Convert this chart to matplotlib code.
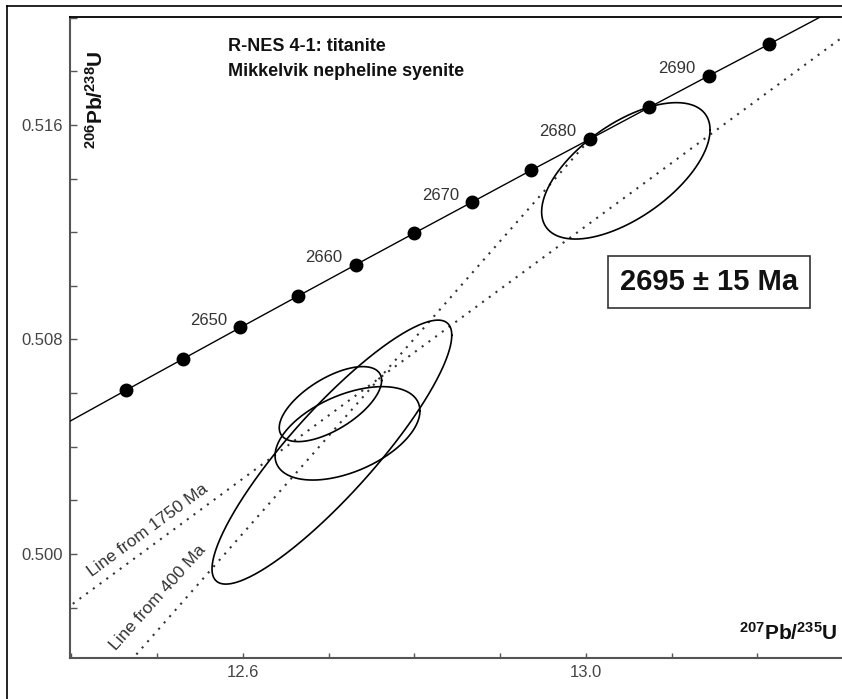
import numpy as np
import matplotlib
matplotlib.use("Agg")
import matplotlib.pyplot as plt
from matplotlib.lines import Line2D
from matplotlib.ticker import MultipleLocator, FixedLocator

plt.rcParams['font.family'] = ['Liberation Sans', 'DejaVu Sans']
plt.rcParams['mathtext.fontset'] = 'custom'
plt.rcParams['mathtext.rm'] = 'Liberation Sans'
plt.rcParams['mathtext.default'] = 'regular'

# Concordia points (age in Ma, 207Pb/235U, 206Pb/238U)
ages = [2630, 2640, 2645, 2650, 2655, 2660, 2665, 2670, 2675, 2680, 2685, 2690, 2695, 2700]
conc_x = [12.3319, 12.4637, 12.5303, 12.5971, 12.6642, 12.7316, 12.7994,
          12.8675, 12.9360, 13.0048, 13.0739, 13.1434, 13.2132, 13.2834]
conc_y = [0.50378, 0.50611, 0.50728, 0.50845, 0.50962, 0.51079, 0.51196,
          0.51313, 0.51431, 0.51548, 0.51666, 0.51784, 0.51901, 0.52020]
dot_ages = ages[1:-1]
label_ages = [2650, 2660, 2670, 2680, 2690]

# Error ellipses: x, 2s x, y, 2s y, rho
ell_x = [13.0465, 12.7020, 12.7219, 12.7037]
ell_sx = [0.0982, 0.0597, 0.0845, 0.1398]
ell_y = [0.51429, 0.50559, 0.50450, 0.50380]
ell_sy = [0.002544, 0.001399, 0.001742, 0.004923]
ell_rho = [0.60, 0.63, 0.48, 0.885]

# Reference lines (two end points each)
line1750_x = [12.30, 13.40]
line1750_y = [0.49575, 0.52165]
line400_x = [12.45, 13.0048]
line400_y = [0.49532, 0.51548]

xticks_major = [12.6, 13.0]
yticks_major = [0.500, 0.508, 0.516]

fig = plt.figure(figsize=(8.42, 6.99), dpi=100)
ax = fig.add_axes([70 / 842, 1 - 658 / 699, 771 / 842, 641 / 699])
ax.set_xlim(12.3983, 13.2974)
ax.set_ylim(0.496121, 0.520028)

# concordia
ax.plot(conc_x, conc_y, color='black', lw=1.0, zorder=3)
mask = [a in dot_ages for a in ages]
ax.plot(np.array(conc_x)[mask], np.array(conc_y)[mask], 'o', color='black',
        markersize=9, zorder=4)
for a, cx, cy in zip(ages, conc_x, conc_y):
    if a in label_ages:
        ax.annotate(str(a), (cx, cy), xytext=(-23, 5), textcoords='offset points',
                    ha='center', va='center', fontsize=12, color='#333333')

# dotted lines
ax.plot(line1750_x, line1750_y, color='#333333', lw=1.5, ls=(0, (1, 3)), zorder=2)
ax.plot(line400_x, line400_y, color='#333333', lw=1.5, ls=(0, (1, 3)), zorder=2)
ax.text(12.4892, 0.50090, 'Line from 1750 Ma', rotation=36.4, fontsize=12.5,
        color='#333333', ha='center', va='center', rotation_mode='anchor')
ax.text(12.5009, 0.49836, 'Line from 400 Ma', rotation=48.1, fontsize=12.5,
        color='#333333', ha='center', va='center', rotation_mode='anchor')

# ellipses
t = np.linspace(0, 2 * np.pi, 300)
for cx, sx, cy, sy, r in zip(ell_x, ell_sx, ell_y, ell_sy, ell_rho):
    ex = cx + sx * np.cos(t)
    ey = cy + sy * (r * np.cos(t) + np.sqrt(1 - r ** 2) * np.sin(t))
    ax.plot(ex, ey, color='black', lw=1.2, zorder=3)

# texts
ax.text(12.5825, 0.51891, 'R-NES 4-1: titanite', fontsize=13,
        fontweight='bold', ha='left', va='center', color='#111111')
ax.text(12.5825, 0.51801, 'Mikkelvik nepheline syenite', fontsize=13,
        fontweight='bold', ha='left', va='center', color='#111111')
ax.text(13.1434, 0.51014, '2695 \u00b1 15 Ma', fontsize=21, fontweight='bold',
        ha='center', va='center', color='#111111',
        bbox=dict(boxstyle='square,pad=0.4', fc='white', ec='#333333', lw=1.2))

fig.text(96 / 842, 1 - 100 / 699, r'$^{206}$Pb/$^{238}$U', rotation=90,
         fontsize=15, fontweight='bold', ha='center', va='center', color='#111111')
fig.text(788 / 842, 1 - 633 / 699, r'$^{207}$Pb/$^{235}$U',
         fontsize=15, fontweight='bold', ha='center', va='center', color='#111111')

# axes styling
ax.spines['right'].set_visible(False)
ax.spines['top'].set_color('black')
ax.spines['top'].set_linewidth(1.3)
for s in ['left', 'bottom']:
    ax.spines[s].set_color('#555555')
    ax.spines[s].set_linewidth(1.5)
ax.xaxis.set_major_locator(FixedLocator(xticks_major))
ax.xaxis.set_minor_locator(MultipleLocator(0.1))
ax.yaxis.set_major_locator(FixedLocator(yticks_major))
ax.yaxis.set_minor_locator(MultipleLocator(0.002))
ax.set_xticklabels(['12.6', '13.0'])
ax.set_yticklabels(['0.500', '0.508', '0.516'])
ax.tick_params(axis='both', which='both', direction='in', color='#555555',
               labelcolor='#444444', labelsize=12, pad=5, width=1)
ax.tick_params(axis='y', which='both', length=5)
ax.tick_params(axis='x', which='both', length=3.5)
ax.tick_params(axis='x', which='both', top=False)
ax.tick_params(axis='y', which='both', right=False)

# outer frame
fig.add_artist(Line2D([7 / 842, 7 / 842], [0, 1 - 6 / 699], color='black', lw=1.2))
fig.add_artist(Line2D([7 / 842, 1], [1 - 6 / 699, 1 - 6 / 699], color='black', lw=1.2))

fig.savefig('out.png', dpi=100)
